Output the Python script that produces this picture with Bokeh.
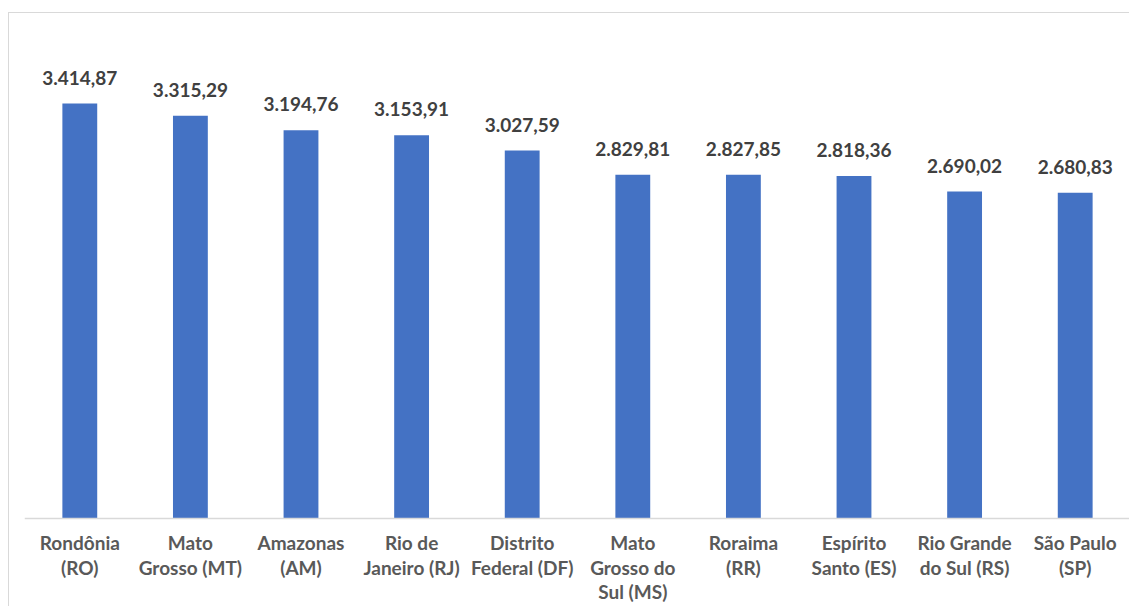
from bokeh.plotting import figure
from bokeh.models import ColumnDataSource, FactorRange, Range1d
from bokeh.embed import file_html
from bokeh.resources import INLINE
from bokeh.core.properties import value

names = ["Rondônia\n(RO)", "Mato\nGrosso (MT)", "Amazonas\n(AM)", "Rio de\nJaneiro (RJ)",
         "Distrito\nFederal (DF)", "Mato\nGrosso do\nSul (MS)", "Roraima\n(RR)",
         "Espírito\nSanto (ES)", "Rio Grande\ndo Sul (RS)", "São Paulo\n(SP)"]
values = [3414.87, 3315.29, 3194.76, 3153.91, 3027.59, 2829.81, 2827.85, 2818.36, 2690.02, 2680.83]


def br(v):
    s = f"{v:,.2f}"
    return s.replace(",", "X").replace(".", ",").replace("X", ".")


labels = [br(v) for v in values]

src = ColumnDataSource(dict(x=names, top=values, label=labels))

p = figure(x_range=FactorRange(*names, range_padding=0), y_range=Range1d(-734, 4000),
           width=1121, height=594, output_backend="svg", toolbar_location=None,
           min_border_left=15, min_border_right=0, min_border_top=19, min_border_bottom=0,
           styles={"border-left": "1px solid #D9D9D9", "border-top": "1px solid #D9D9D9",
                   "margin-top": "12px", "margin-left": "8px"})
p.outline_line_color = None
p.background_fill_color = "white"
p.border_fill_color = "white"

p.vbar(x="x", top="top", bottom=0, width=0.315, source=src, fill_color="#4472C4", line_color=None)
p.text(x="x", y="top", text="label", source=src, text_align="center",
       text_baseline="alphabetic", y_offset=-26, text_font=value("Lato"),
       text_font_style="bold", text_font_size="19px", text_color="#404040")

p.yaxis.visible = False
p.xgrid.grid_line_color = None
p.ygrid.grid_line_color = None
xa = p.xaxis[0]
xa.fixed_location = 0
xa.axis_line_color = "#D9D9D9"
xa.axis_line_width = 1.5
xa.major_tick_line_color = None
xa.minor_tick_line_color = None
xa.major_label_text_font = "Lato"
xa.major_label_text_font_style = "bold"
xa.major_label_text_font_size = "19px"
xa.major_label_text_color = "#595959"
xa.major_label_standoff = 7
xa.major_label_text_line_height = 1.06

open("out.html", "w").write(file_html(p, INLINE))
